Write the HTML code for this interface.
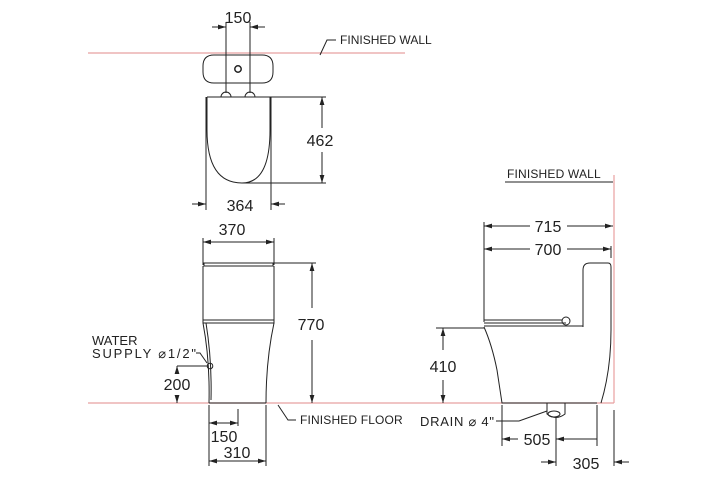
<!DOCTYPE html>
<html><head><meta charset="utf-8"><style>
html,body{margin:0;padding:0;background:#fff;}
svg{display:block;}
text{font-family:"Liberation Sans",sans-serif;fill:#222;}
.d{font-size:16px;}
.s{font-size:12px;letter-spacing:0.3px;}
.w{font-size:13px;}
</style></head><body>
<svg width="720" height="480" viewBox="0 0 720 480" xmlns="http://www.w3.org/2000/svg">
<defs>
<marker id="a" viewBox="0 0 10 6" refX="10" refY="3" markerWidth="8" markerHeight="5" orient="auto-start-reverse" markerUnits="userSpaceOnUse"><path d="M0,0 L10,3 L0,6 Z" fill="#222"/></marker>
</defs>
<g stroke="#e8a0a0" stroke-width="1.2" fill="none">
<line x1="88" y1="53" x2="405" y2="53"/>
<line x1="88" y1="403" x2="614" y2="403"/>
<line x1="614" y1="175" x2="614" y2="403"/>
</g>
<g stroke="#222" stroke-width="1" fill="none">
<path d="M214,55 H262 Q273,55 273,66 V72 Q273,83 262,83 H214 Q203,83 203,72 V66 Q203,55 214,55 Z"/>
<circle cx="238" cy="69" r="3.2" stroke-width="1.5"/>
<path d="M221,97 A5,5 0 0 1 231,97 M245,97 A5,5 0 0 1 255,97"/>
<line x1="207" y1="97" x2="271" y2="97"/>
<path d="M207,97 V130 Q207,183 242,183 Q270,183 270,130 V97"/>
<line x1="206" y1="97" x2="206" y2="210"/>
<line x1="271" y1="97" x2="271" y2="210"/>
<line x1="226" y1="22" x2="226" y2="93"/>
<line x1="250" y1="22" x2="250" y2="93"/>
<line x1="212" y1="27" x2="226" y2="27" marker-end="url(#a)"/>
<line x1="265" y1="27" x2="250" y2="27" marker-end="url(#a)"/>
<line x1="192" y1="204" x2="206" y2="204" marker-end="url(#a)"/>
<line x1="285" y1="204" x2="271" y2="204" marker-end="url(#a)"/>
<line x1="271" y1="97" x2="326" y2="97"/>
<line x1="242" y1="183" x2="326" y2="183"/>
<line x1="322" y1="128" x2="322" y2="97" marker-end="url(#a)"/>
<line x1="322" y1="152" x2="322" y2="183" marker-end="url(#a)"/>
<path d="M320,55 L327,40 H336"/>
<line x1="203" y1="238" x2="203" y2="265"/>
<line x1="274" y1="238" x2="274" y2="265"/>
<line x1="203" y1="242" x2="274" y2="242" marker-start="url(#a)" marker-end="url(#a)"/>
<path d="M204,263 H273 V266 H204 Z"/>
<path d="M203,266 V320 M274,266 V320"/>
<path d="M203,320 H274 V323 H203 Z"/>
<path d="M203,323 Q210,360 209,403 M274,323 Q266,360 266,403"/>
<path d="M206,323 Q212,360 211,400"/>
<line x1="209" y1="403" x2="266" y2="403"/>
<line x1="274" y1="263" x2="316" y2="263"/>
<line x1="312" y1="308" x2="312" y2="263" marker-end="url(#a)"/>
<line x1="312" y1="340" x2="312" y2="403" marker-end="url(#a)"/>
<circle cx="210" cy="366" r="2.8"/>
<path d="M196,353 H200 L207,363"/>
<line x1="177" y1="366" x2="208" y2="366"/>
<line x1="177" y1="372" x2="177" y2="366" marker-end="url(#a)"/>
<line x1="177" y1="396" x2="177" y2="403" marker-end="url(#a)"/>
<line x1="209" y1="405" x2="209" y2="466"/>
<line x1="266" y1="405" x2="266" y2="466"/>
<line x1="238" y1="409" x2="238" y2="426"/>
<line x1="209" y1="423" x2="238" y2="423" marker-start="url(#a)" marker-end="url(#a)"/>
<line x1="209" y1="461" x2="266" y2="461" marker-start="url(#a)" marker-end="url(#a)"/>
<path d="M278,405 L288,420 H296"/>
<line x1="505" y1="182" x2="613" y2="182"/>
<line x1="484" y1="222" x2="484" y2="322"/>
<line x1="611" y1="246" x2="611" y2="258"/>
<line x1="484" y1="226" x2="530" y2="226" marker-start="url(#a)"/>
<line x1="567" y1="226" x2="613" y2="226" marker-end="url(#a)"/>
<line x1="484" y1="249" x2="530" y2="249" marker-start="url(#a)"/>
<line x1="567" y1="249" x2="611" y2="249" marker-end="url(#a)"/>
<path d="M583,327 V270 Q583,263 590,263 H608 Q611,263 611,267 V330 Q611,370 601,403"/>
<path d="M484,320 H562 M484,326 H583 M484,323 H566"/>
<circle cx="566" cy="321" r="4"/>
<path d="M484,327 Q492,345 497,370 Q500,390 502,403 H597"/>
<path d="M547,403 V414 Q556,421 565,414 V403"/>
<ellipse cx="554" cy="414" rx="6" ry="3"/>
<path d="M496,421 H519 L547,411"/>
<line x1="436" y1="328" x2="484" y2="328"/>
<line x1="443" y1="350" x2="443" y2="328" marker-end="url(#a)"/>
<line x1="443" y1="380" x2="443" y2="403" marker-end="url(#a)"/>
<line x1="502" y1="405" x2="502" y2="446"/>
<line x1="597" y1="405" x2="597" y2="446"/>
<line x1="556" y1="417" x2="556" y2="466"/>
<line x1="614" y1="410" x2="614" y2="466"/>
<line x1="518" y1="439" x2="502" y2="439" marker-end="url(#a)"/>
<line x1="556" y1="439" x2="597" y2="439" marker-start="url(#a)"/>
<line x1="541" y1="462" x2="556" y2="462" marker-end="url(#a)"/>
<line x1="629" y1="462" x2="614" y2="462" marker-end="url(#a)"/>
</g>
<g class="d" text-anchor="middle">
<text x="238" y="23">150</text>
<text x="320" y="146">462</text>
<text x="240" y="211">364</text>
<text x="232" y="235">370</text>
<text x="311" y="330">770</text>
<text x="177" y="390">200</text>
<text x="224" y="442">150</text>
<text x="237" y="458">310</text>
<text x="548" y="232">715</text>
<text x="548" y="255">700</text>
<text x="443" y="372">410</text>
<text x="537" y="445">505</text>
<text x="586" y="469">305</text>
</g>
<g class="s">
<text x="340" y="44" textLength="92" lengthAdjust="spacing">FINISHED  WALL</text>
<text x="507" y="178" textLength="94" lengthAdjust="spacing">FINISHED  WALL</text>
<text x="300" y="424" textLength="103" lengthAdjust="spacing">FINISHED  FLOOR</text>
</g>
<g class="w">
<text x="92" y="345">WATER</text>
<text x="92" y="358" textLength="104" lengthAdjust="spacing">SUPPLY ⌀1/2"</text>
<text x="420" y="426" textLength="74" lengthAdjust="spacing">DRAIN ⌀ 4"</text>
</g>
</svg>
</body></html>
